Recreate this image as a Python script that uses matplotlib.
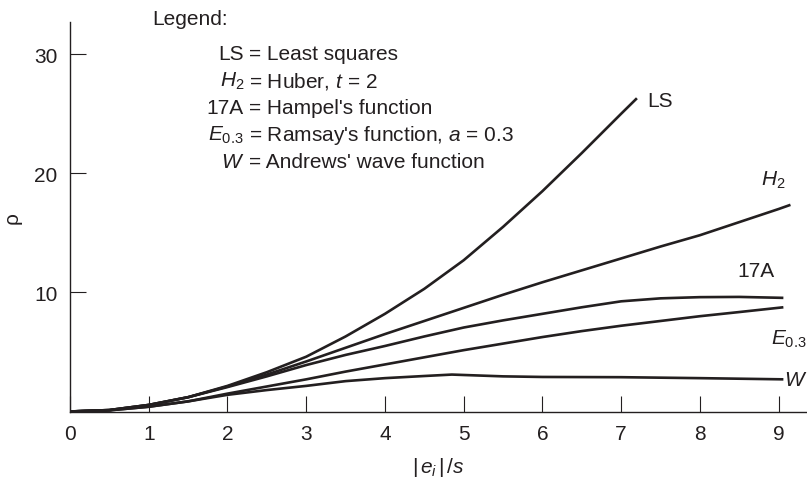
import matplotlib
matplotlib.use('Agg')
import matplotlib.pyplot as plt

plt.rcParams['font.family'] = ['Liberation Sans', 'DejaVu Sans']
plt.rcParams['mathtext.fontset'] = 'custom'
plt.rcParams['mathtext.rm'] = 'Liberation Sans'
plt.rcParams['mathtext.it'] = 'Liberation Sans:italic'
plt.rcParams['mathtext.bf'] = 'Liberation Sans:bold'

ink = '#231f20'
fs = 15

# curves
ls_x = [0, 0.5, 1, 1.5, 2, 2.5, 3, 3.5, 4, 4.5, 5, 5.5, 6, 6.5, 7, 7.2]
ls_y = [0, 0.12, 0.55, 1.2, 2.15, 3.3, 4.6, 6.3, 8.2, 10.3, 12.7, 15.5, 18.5, 21.7, 25.0, 26.3]

h2_x = [0, 0.5, 1, 1.5, 2, 2.5, 3, 3.5, 4, 4.5, 5, 5.5, 6, 6.5, 7, 7.5, 8, 8.5, 9, 9.15]
h2_y = [0, 0.12, 0.55, 1.2, 2.1, 3.1, 4.2, 5.35, 6.5, 7.6, 8.7, 9.8, 10.85, 11.85, 12.85,
        13.85, 14.8, 15.9, 17.0, 17.35]

a17_x = [0, 0.5, 1, 1.5, 2, 2.5, 3, 3.5, 4, 4.5, 5, 5.5, 6, 6.5, 7, 7.5, 8, 8.5, 9.06]
a17_y = [0, 0.12, 0.55, 1.2, 2.05, 2.95, 3.9, 4.75, 5.5, 6.3, 7.05, 7.65, 8.2, 8.75, 9.25,
         9.5, 9.6, 9.62, 9.54]

e03_x = [0, 0.5, 1, 1.5, 2, 2.5, 3, 3.5, 4, 4.5, 5, 5.5, 6, 6.5, 7, 7.5, 8, 8.5, 9.06]
e03_y = [0, 0.1, 0.4, 0.85, 1.5, 2.1, 2.7, 3.35, 3.95, 4.55, 5.15, 5.7, 6.25, 6.75, 7.2,
         7.6, 8.0, 8.35, 8.75]

w_x = [0, 0.5, 1, 1.5, 2, 2.5, 3, 3.5, 4, 4.5, 4.85, 5.5, 6, 7, 8, 9.06]
w_y = [0, 0.1, 0.4, 0.85, 1.4, 1.8, 2.15, 2.55, 2.8, 2.98, 3.1, 2.95, 2.9, 2.88, 2.8, 2.7]

x_ticks = list(range(10))
y_ticks = [10, 20, 30]

legend_keys = ['LS', r'$H_2$', '17A', r'$E_{0.3}$', r'$W$']
legend_vals = ['= Least squares', r'= Huber, $t$ = 2', "= Hampel's function",
               r"= Ramsay's function, $a$ = 0.3", "= Andrews' wave function"]

fig = plt.figure(figsize=(8.07, 4.89), dpi=100)
ax = fig.add_axes([70 / 807, 1 - 412.5 / 489, 1 - 70 / 807, (412.5 - 23) / 489])

for xs, ys in [(ls_x, ls_y), (h2_x, h2_y), (a17_x, a17_y), (e03_x, e03_y), (w_x, w_y)]:
    ax.plot(xs, ys, color=ink, lw=1.9, solid_capstyle='butt', solid_joinstyle='round')

ax.set_xlim(0, 9.36)
ax.set_ylim(0, 32.7)
ax.set_xticks(x_ticks)
ax.set_yticks(y_ticks)
ax.tick_params(direction='in', length=11.5, width=0.8, color=ink, labelcolor=ink,
               labelsize=fs, pad=9)
for s in ['top', 'right']:
    ax.spines[s].set_visible(False)
for s in ['left', 'bottom']:
    ax.spines[s].set_linewidth(1.0)
    ax.spines[s].set_color(ink)

ax.set_ylabel('ρ', fontsize=fs, color=ink)
ax.yaxis.set_label_coords(-48 / 737, 0.5)
ax.set_xlabel(r'$|\,e_i\,|\,/s$', fontsize=fs, color=ink, labelpad=9)

# curve labels
ax.text(7.33, 26.1, 'LS', fontsize=fs, color=ink, va='center')
ax.text(8.77, 19.5, r'$H_2$', fontsize=fs, color=ink, va='center')
ax.text(8.48, 11.8, '17A', fontsize=fs, color=ink, va='center')
ax.text(8.9, 6.1, r'$E_{0.3}$', fontsize=fs, color=ink, va='center')
ax.text(9.07, 2.7, r'$W$', fontsize=fs, color=ink, va='center')

# legend block
fig.text(152 / 807, 1 - 25 / 489, 'Legend:', fontsize=fs, color=ink, va='baseline')
for i, (k, v) in enumerate(zip(legend_keys, legend_vals)):
    yb = 1 - (60 + 27 * i) / 489
    fig.text(244 / 807, yb, k, fontsize=fs, color=ink, ha='right', va='baseline')
    fig.text(249 / 807, yb, v, fontsize=fs, color=ink, ha='left', va='baseline')

fig.savefig('out.png', dpi=100)
